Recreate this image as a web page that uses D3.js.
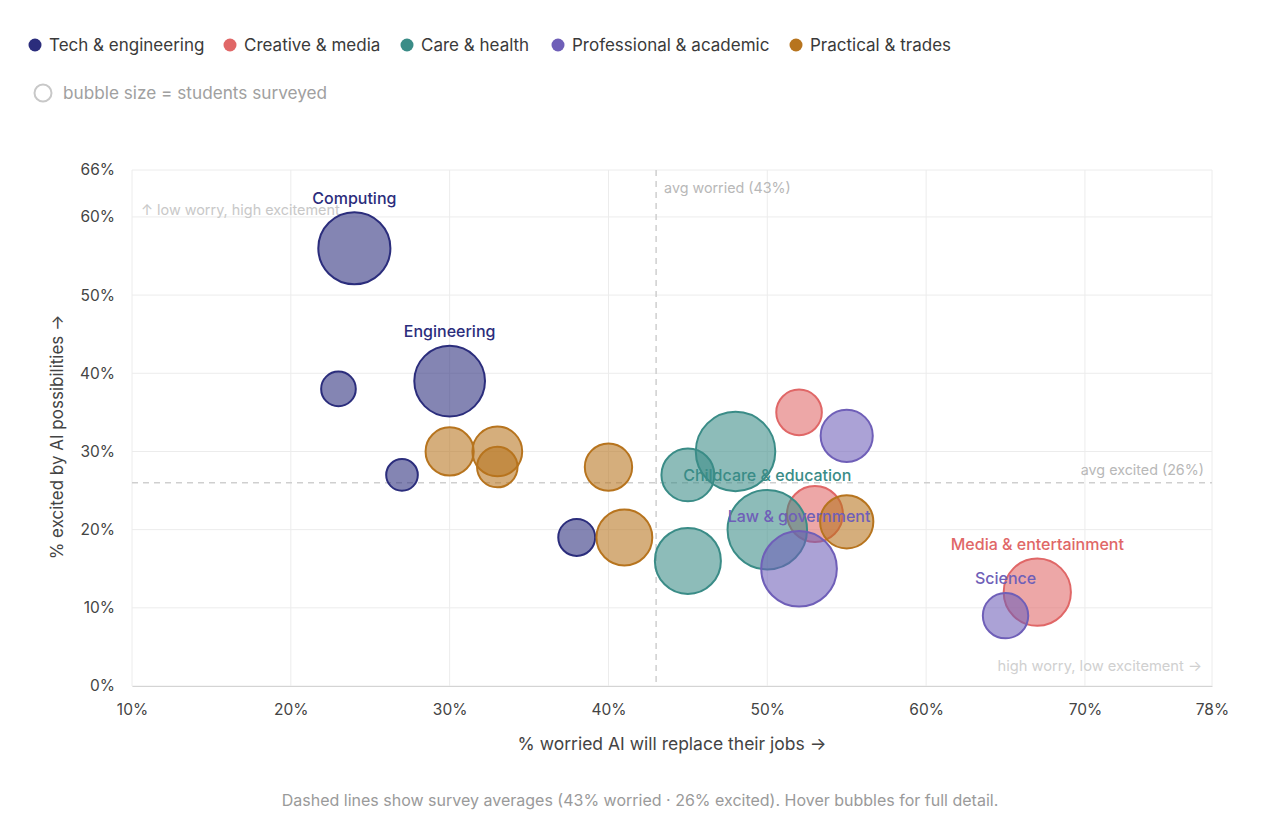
<!DOCTYPE html>
<html>
<head>
<meta charset="utf-8">
<script src="https://cdn.jsdelivr.net/npm/d3@7/dist/d3.min.js"></script>
<style>
  html, body { margin: 0; padding: 0; background: #fff; }
  svg { display: block; font-family: Inter, "Noto Sans", sans-serif; }
</style>
</head>
<body>
<svg id="chart" width="1280" height="828"></svg>
<script>
// ---- Data ----
const groups = ["Tech & engineering", "Creative & media", "Care & health", "Professional & academic", "Practical & trades"];
const groupColors = ["#2b2d7c", "#e06767", "#3a8c87", "#6f5fb8", "#b7741e"];

// each row: [label, group index, % worried, % excited, students surveyed]
const names    = ["Computing", "", "Engineering", "", "",
                  "", "", "Media & entertainment",
                  "", "", "", "Childcare & education",
                  "", "Law & government", "Science",
                  "", "", "", "", "", ""];
const groupIdx = [0, 0, 0, 0, 0,
                  1, 1, 1,
                  2, 2, 2, 2,
                  3, 3, 3,
                  4, 4, 4, 4, 4, 4];
const worried  = [24, 23, 30, 27, 38,
                  52, 53, 67,
                  45, 48, 45, 50,
                  55, 52, 65,
                  30, 33, 33, 40, 41, 55];
const excited  = [56, 38, 39, 27, 19,
                  35, 22, 12,
                  27, 30, 16, 20,
                  32, 15, 9,
                  30, 30, 28, 28, 19, 21];
const students = [1300, 300, 1250, 250, 340,
                  520, 780, 1130,
                  700, 1580, 1090, 1580,
                  680, 1430, 515,
                  580, 620, 410, 560, 780, 710];

const xTicks = [10, 20, 30, 40, 50, 60, 70, 78];
const yTicks = [0, 10, 20, 30, 40, 50, 60, 66];
const avgWorried = 43;
const avgExcited = 26;

// ---- Layout ----
const svg = d3.select("#chart");
const M = { left: 132, right: 1212, top: 170, bottom: 686 };

const x = d3.scaleLinear().domain([10, 78]).range([M.left, M.right]);
const y = d3.scaleLinear().domain([0, 66]).range([M.bottom, M.top]);
const r = d3.scaleSqrt().domain([0, 1600]).range([0, 40]);

const data = names.map((n, i) => ({
  name: n, g: groupIdx[i], wx: worried[i], ex: excited[i], n: students[i]
}));

// ---- Legend ----
const legendX = [35, 230, 407, 558, 796];
const leg = svg.append("g");
groups.forEach((g, i) => {
  leg.append("circle").attr("cx", legendX[i]).attr("cy", 45).attr("r", 6.5).attr("fill", groupColors[i]);
  leg.append("text").attr("x", legendX[i] + 14).attr("y", 51)
    .attr("font-size", 17).attr("fill", "#3a3a3a").text(g);
});
leg.append("circle").attr("cx", 43).attr("cy", 93).attr("r", 8.5)
  .attr("fill", "none").attr("stroke", "#c8c8c8").attr("stroke-width", 2);
leg.append("text").attr("x", 63).attr("y", 99).attr("font-size", 17.2)
  .attr("fill", "#a0a0a0").text("bubble size = students surveyed");

// ---- Grid ----
const grid = svg.append("g");
grid.selectAll("line.gx").data(xTicks).join("line")
  .attr("x1", d => x(d)).attr("x2", d => x(d))
  .attr("y1", M.top).attr("y2", M.bottom)
  .attr("stroke", "#ececec").attr("stroke-width", 1);
grid.selectAll("line.gy").data(yTicks).join("line")
  .attr("x1", M.left).attr("x2", M.right)
  .attr("y1", d => y(d)).attr("y2", d => y(d))
  .attr("stroke", "#ececec").attr("stroke-width", 1);

// ---- Axes ----
const xAxis = svg.append("g").attr("transform", `translate(0,${M.bottom})`)
  .call(d3.axisBottom(x).tickValues(xTicks).tickFormat(d => d + "%").tickSize(0).tickPadding(18));
xAxis.select(".domain").attr("stroke", "#d4d4d4");
xAxis.selectAll("text").attr("font-size", 15.5).attr("fill", "#444").attr("font-family", "Inter, sans-serif");

const yAxis = svg.append("g").attr("transform", `translate(${M.left},0)`)
  .call(d3.axisLeft(y).tickValues(yTicks).tickFormat(d => d + "%").tickSize(0).tickPadding(17));
yAxis.select(".domain").remove();
yAxis.selectAll("text").attr("font-size", 15.5).attr("fill", "#444").attr("font-family", "Inter, sans-serif");

svg.append("text").attr("x", 672).attr("y", 750).attr("text-anchor", "middle")
  .attr("font-size", 17.5).attr("fill", "#444").text("% worried AI will replace their jobs →");
svg.append("text").attr("transform", "translate(63,437) rotate(-90)").attr("text-anchor", "middle")
  .attr("font-size", 17).attr("fill", "#444").text("% excited by AI possibilities →");

// ---- Average lines ----
svg.append("line").attr("x1", x(avgWorried)).attr("x2", x(avgWorried))
  .attr("y1", M.top).attr("y2", M.bottom)
  .attr("stroke", "#cfcfcf").attr("stroke-width", 1.5).attr("stroke-dasharray", "6,5");
svg.append("line").attr("x1", M.left).attr("x2", M.right)
  .attr("y1", y(avgExcited)).attr("y2", y(avgExcited))
  .attr("stroke", "#cfcfcf").attr("stroke-width", 1.5).attr("stroke-dasharray", "6,5");
svg.append("text").attr("x", x(avgWorried) + 8).attr("y", 193)
  .attr("font-size", 14.3).attr("fill", "#b8b8b8").text(`avg worried (${avgWorried}%)`);
svg.append("text").attr("x", M.right - 8).attr("y", y(avgExcited) - 8).attr("text-anchor", "end")
  .attr("font-size", 14.3).attr("fill", "#b8b8b8").text(`avg excited (${avgExcited}%)`);

// quadrant notes
svg.append("text").attr("x", M.left + 9).attr("y", 215)
  .attr("font-size", 14.4).attr("fill", "#c8c8c8").text("↑ low worry, high excitement");
svg.append("text").attr("x", M.right - 10).attr("y", 671).attr("text-anchor", "end")
  .attr("font-size", 14.7).attr("fill", "#d0d0d0").text("high worry, low excitement →");

// ---- Bubbles ----
svg.append("g").selectAll("circle").data(data).join("circle")
  .attr("cx", d => x(d.wx)).attr("cy", d => y(d.ex)).attr("r", d => r(d.n))
  .attr("fill", d => groupColors[d.g]).attr("fill-opacity", 0.58)
  .attr("stroke", d => groupColors[d.g]).attr("stroke-width", 2);

// ---- Labels ----
svg.append("g").selectAll("text").data(data.filter(d => d.name)).join("text")
  .attr("x", d => x(d.wx)).attr("y", d => y(d.ex) - r(d.n) - 8.5)
  .attr("text-anchor", "middle").attr("font-size", 16).attr("font-weight", 500)
  .attr("fill", d => groupColors[d.g]).text(d => d.name);

// ---- Footer ----
svg.append("text").attr("x", 640).attr("y", 806).attr("text-anchor", "middle")
  .attr("font-size", 16).attr("fill", "#9a9a9a")
  .text(`Dashed lines show survey averages (${avgWorried}% worried · ${avgExcited}% excited). Hover bubbles for full detail.`);
</script>
</body>
</html>
